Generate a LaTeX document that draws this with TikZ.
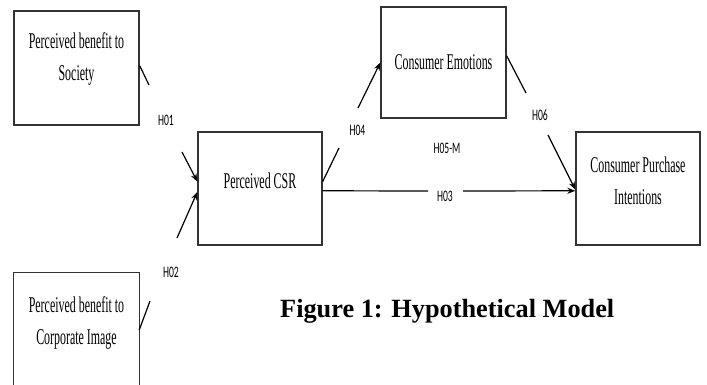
\documentclass[tikz,border=0pt]{standalone}
\usepackage{fontspec}
\setmainfont{Liberation Serif}
\newfontfamily\boxfont[FakeStretch=0.53]{Liberation Serif}
\newfontfamily\labfont[FakeStretch=0.6]{Carlito}
\usetikzlibrary{arrows.meta,calc}
\tikzset{
  box/.style={draw=black!80, line width=1.3pt, rectangle, inner sep=0pt},
  boxline/.style={draw=black!80, line width=1.3pt},
  boxtext/.style={font=\boxfont\fontsize{22.5}{32}\selectfont, align=center, inner sep=0pt},
  hlab/.style={font=\labfont\fontsize{16}{18}\selectfont, inner sep=0pt},
  link/.style={draw=black, line width=1.2pt},
  arr/.style={link, -{Stealth[length=8pt,width=6pt]}},
}
\begin{document}
\begin{tikzpicture}[x=1pt,y=-1pt]
\useasboundingbox (0,0) rectangle (707,385);
\fill[white] (0,0) rectangle (707,385);
% boxes
\node[box, minimum width=125pt, minimum height=114pt] (soc) at (76.5,68) {};
\node[rectangle, inner sep=0pt, minimum width=125pt, minimum height=112pt] (img) at (76.5,329) {};
\draw[boxline] (img.south west) -- (img.north west) -- (img.north east) -- (img.south east);
\node[box, minimum width=124pt, minimum height=113pt] (csr) at (260,188.5) {};
\node[box, minimum width=125pt, minimum height=111pt] (emo) at (443.5,62.5) {};
\node[box, minimum width=124pt, minimum height=113pt] (cpi) at (638,188.5) {};
% box texts
\node[boxtext] (socT) at (76.5,59.5) {Perceived benefit to\\Society};
\node[boxtext] (imgT) at (76.5,323) {Perceived benefit to\\Corporate Image};
\node[boxtext] (csrT) at (260,181) {Perceived CSR};
\node[boxtext] (emoT) at (443.5,62) {Consumer Emotions};
\node[boxtext] (cpiT) at (638,181) {Consumer Purchase\\Intentions};
% labels
\node[hlab] (l1) at (166,120) {H01};
\node[hlab] (l2) at (171,272) {H02};
\node[hlab] (l3) at (445,196) {H03};
\node[hlab] (l4) at (357.5,130.5) {H04};
\node[hlab] (l5) at (447,148) {H05-M};
\node[hlab] (l6) at (540,115) {H06};
% free ends
\coordinate (h1a) at (149,85);
\coordinate (h1b) at (182,152);
\coordinate (h2a) at (150,301);
\coordinate (h2b) at (177,238);
\coordinate (h4a) at (339,148);
\coordinate (h4b) at (358,108);
\coordinate (h6a) at (526,93);
\coordinate (h6b) at (548,135);
\coordinate (h3a) at (428,191);
\coordinate (h3b) at (463,191);
% H01
\draw[link] ($(soc.north east)!0.48!(soc.south east)$) -- (h1a);
\draw[arr] (h1b) -- ($(csr.north west)!0.44!(csr.south west)$);
% H02
\draw[link] (img.north east |- 0,330) -- (h2a);
\draw[arr] (h2b) -- ($(csr.north west)!0.53!(csr.south west)$);
% H04
\draw[link] ($(csr.north east)!0.44!(csr.south east)$) -- (h4a);
\draw[arr] (h4b) -- ($(emo.north west)!0.5!(emo.south west)$);
% H06
\draw[link] ($(emo.north east)!0.44!(emo.south east)$) -- (h6a);
\draw[arr] (h6b) -- ($(cpi.north west)!0.51!(cpi.south west)$);
% H03
\draw[link] ($(csr.north east)!0.52!(csr.south east)$) -- (h3a);
\draw[arr] (h3b) -- ($(cpi.north west)!0.52!(cpi.south west)$);
% caption
\node[font=\bfseries\fontsize{26.3}{32}\selectfont, anchor=base west, inner sep=0pt] (cap) at (280,317) {Figure 1: Hypothetical Model};
\end{tikzpicture}
\end{document}
